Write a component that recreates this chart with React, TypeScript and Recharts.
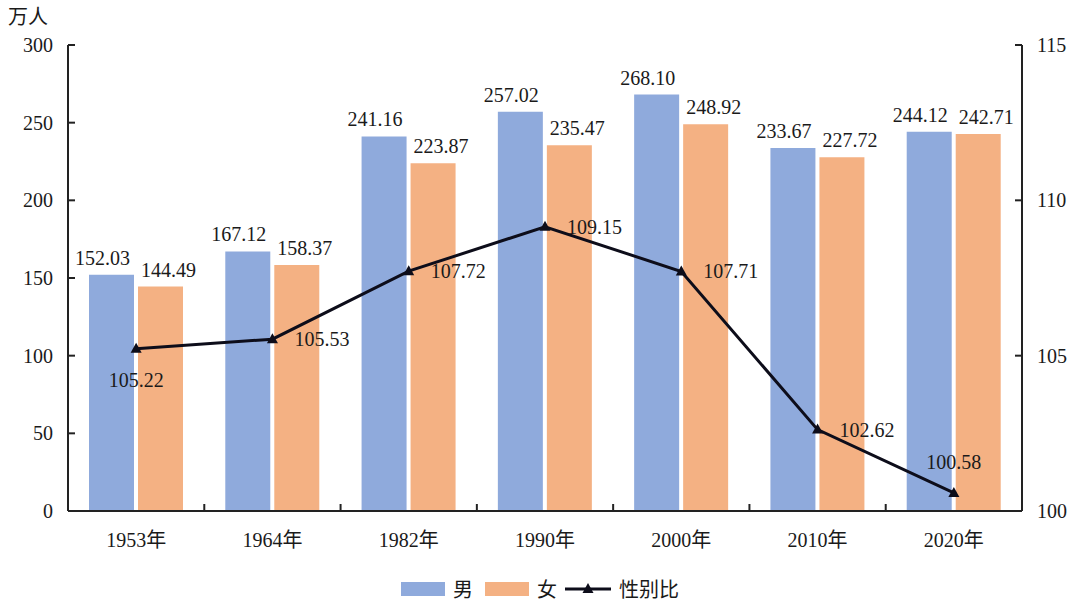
import { ComposedChart, Bar, Line, XAxis, YAxis, LabelList, Legend } from "recharts";

const years = ["1953年", "1964年", "1982年", "1990年", "2000年", "2010年", "2020年"];
const male = [152.03, 167.12, 241.16, 257.02, 268.1, 233.67, 244.12];
const female = [144.49, 158.37, 223.87, 235.47, 248.92, 227.72, 242.71];
const sexRatio = [105.22, 105.53, 107.72, 109.15, 107.71, 102.62, 100.58];

const leftTicks = [0, 50, 100, 150, 200, 250, 300];
const rightTicks = [100, 105, 110, 115];

const data = years.map((year, i) => ({
  year,
  male: male[i],
  female: female[i],
  ratio: sexRatio[i],
}));

const FONT = "'Liberation Serif', 'Times New Roman', 'Noto Sans CJK SC', serif";
const BLUE = "#8faadc";
const ORANGE = "#f4b183";
const LINE = "#0d0d1a";
const AXIS = "#222";
const X_TICK_MARGIN = 22;

const tickStyle = { fontSize: 20, fill: "#1a1a1a", fontFamily: FONT };

function barLabel(dx: number) {
  return (props: any) => {
    const { x, y, width, value } = props;
    return (
      <text
        x={x + width / 2 + dx}
        y={y - 10}
        textAnchor="middle"
        fontSize={20}
        fontFamily={FONT}
        fill="#1a1a1a"
      >
        {Number(value).toFixed(2)}
      </text>
    );
  };
}

const ratioLabel = (props: any) => {
  const { x, y, value, index } = props;
  let tx = x + 22;
  let ty = y + 7;
  let anchor: "start" | "middle" = "start";
  if (index === 0) {
    tx = x;
    ty = y + 38;
    anchor = "middle";
  } else if (index === sexRatio.length - 1) {
    tx = x;
    ty = y - 24;
    anchor = "middle";
  }
  return (
    <text x={tx} y={ty} textAnchor={anchor} fontSize={20} fontFamily={FONT} fill="#1a1a1a">
      {Number(value).toFixed(2)}
    </text>
  );
};

const Triangle = (props: any) => {
  const { cx, cy } = props;
  if (cx == null || cy == null) return null;
  return <path d={`M${cx},${cy - 6} L${cx + 5.5},${cy + 4} L${cx - 5.5},${cy + 4} Z`} fill={LINE} />;
};

// tick centres seen so far, so each label can mark the boundary with its left neighbour
const tickCentres: number[] = [];

const XTick = (props: any) => {
  const { x, y, payload } = props;
  const idx = years.indexOf(payload?.value);
  const cx = Number(x);
  if (idx >= 0) tickCentres[idx] = cx;
  const prev = idx > 0 ? tickCentres[idx - 1] : undefined;
  const axisY = Number(y) - X_TICK_MARGIN;
  const bx = prev != null ? (prev + cx) / 2 : null;
  return (
    <g>
      <text x={cx} y={y} dy="0.71em" textAnchor="middle" {...tickStyle}>
        {payload.value}
      </text>
      {bx != null && (
        <line x1={bx} x2={bx} y1={axisY} y2={axisY - 7} stroke={AXIS} strokeWidth={2} />
      )}
    </g>
  );
};

const LegendContent = () => (
  <div
    style={{
      display: "flex",
      justifyContent: "center",
      alignItems: "center",
      fontFamily: FONT,
      fontSize: 20,
      color: "#1a1a1a",
      gap: 8,
    }}
  >
    <span style={{ width: 44, height: 14, background: BLUE, display: "inline-block" }} />
    <span style={{ marginRight: 4 }}>男</span>
    <span style={{ width: 44, height: 14, background: ORANGE, display: "inline-block" }} />
    <span>女</span>
    <svg width={46} height={14}>
      <line x1={0} y1={7} x2={46} y2={7} stroke={LINE} strokeWidth={3} />
      <path d="M23,1 L28.5,11 L17.5,11 Z" fill={LINE} />
    </svg>
    <span>性别比</span>
  </div>
);

export default function App() {
  return (
    <div style={{ position: "absolute", left: 0, top: 0, background: "#fff" }}>
      <ComposedChart
        width={1080}
        height={600}
        data={data}
        margin={{ top: 45, right: 0, bottom: 49, left: 0 }}
      >
        <text x={8} y={24} fontSize={20} fontFamily={FONT} fill="#1a1a1a">
          万人
        </text>
        <XAxis
          dataKey="year"
          height={40}
          tickLine={false}
          tickSize={0}
          tickMargin={X_TICK_MARGIN}
          axisLine={{ stroke: AXIS, strokeWidth: 2 }}
          tick={XTick}
          interval={0}
        />
        <YAxis
          yAxisId="left"
          width={68}
          domain={[0, 300]}
          ticks={leftTicks}
          tickSize={-7}
          tickMargin={22}
          axisLine={{ stroke: AXIS, strokeWidth: 2 }}
          tickLine={{ stroke: AXIS, strokeWidth: 2 }}
          tick={tickStyle}
        />
        <YAxis
          yAxisId="right"
          orientation="right"
          width={58}
          domain={[100, 115]}
          ticks={rightTicks}
          tickSize={-7}
          tickMargin={22}
          axisLine={{ stroke: AXIS, strokeWidth: 2 }}
          tickLine={{ stroke: AXIS, strokeWidth: 2 }}
          tick={tickStyle}
        />
        <Legend
          verticalAlign="middle"
          align="center"
          layout="horizontal"
          wrapperStyle={{ top: 574, left: 0, width: 1080 }}
          content={LegendContent}
        />
        <Bar yAxisId="left" dataKey="male" name="男" fill={BLUE} barSize={45} isAnimationActive={false}>
          <LabelList dataKey="male" content={barLabel(-9)} />
        </Bar>
        <Bar yAxisId="left" dataKey="female" name="女" fill={ORANGE} barSize={45} isAnimationActive={false}>
          <LabelList dataKey="female" content={barLabel(8)} />
        </Bar>
        <Line
          yAxisId="right"
          dataKey="ratio"
          name="性别比"
          stroke={LINE}
          strokeWidth={3}
          dot={<Triangle />}
          activeDot={false}
          isAnimationActive={false}
        >
          <LabelList dataKey="ratio" content={ratioLabel} />
        </Line>
      </ComposedChart>
    </div>
  );
}
